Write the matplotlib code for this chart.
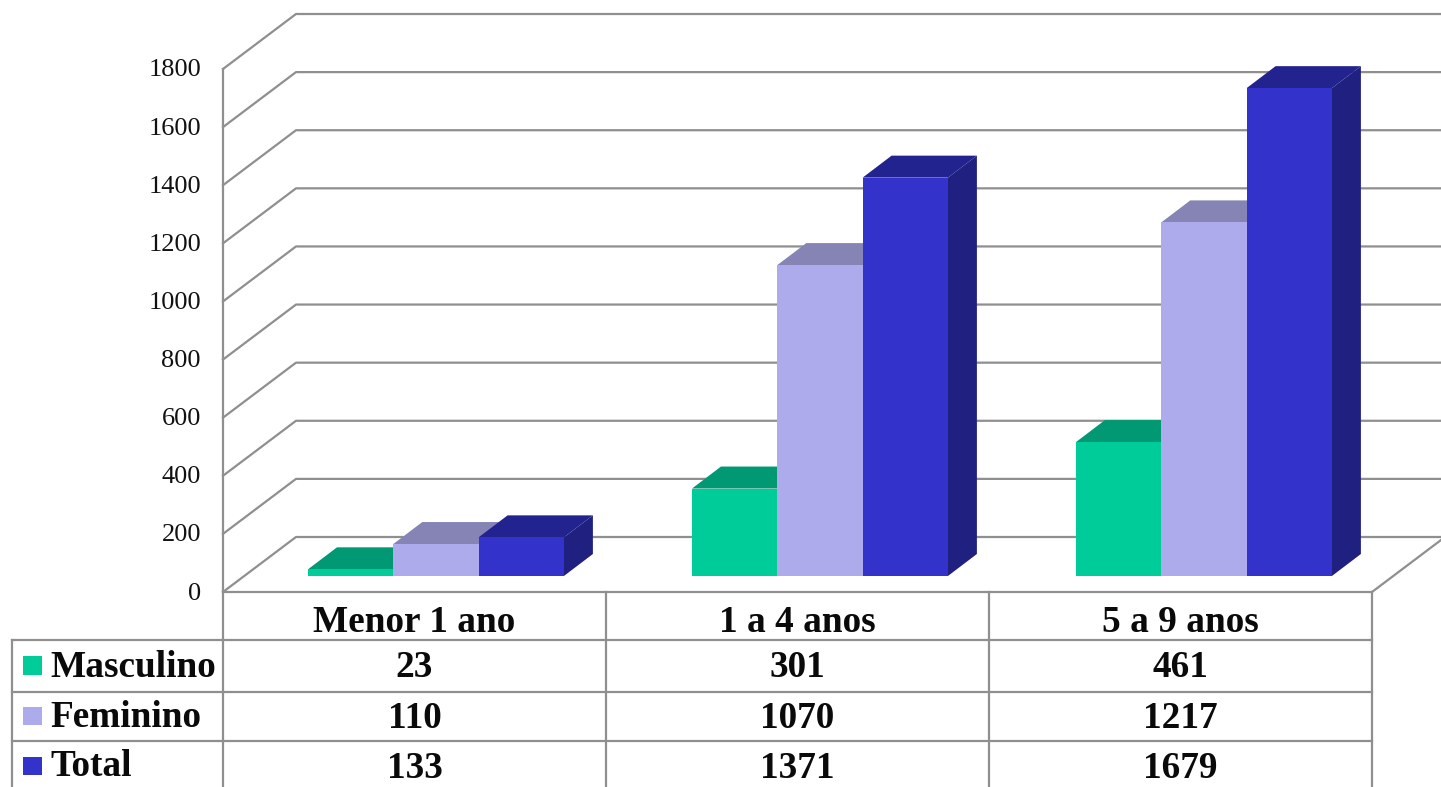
import matplotlib
matplotlib.use("Agg")
import matplotlib.pyplot as plt

plt.rcParams["font.family"] = ["Liberation Serif", "DejaVu Serif"]

categories = ["Menor 1 ano", "1 a 4 anos", "5 a 9 anos"]
series_names = ["Masculino", "Feminino", "Total"]
masculino = [23, 301, 461]
feminino = [110, 1070, 1217]
total = [133, 1371, 1679]
y_ticks = [0, 200, 400, 600, 800, 1000, 1200, 1400, 1600, 1800]

front_colors = ["#00CC99", "#ADABEB", "#3333CC"]
top_colors = ["#009973", "#8584B5", "#23238F"]
side_colors = ["#008060", "#6E6DA0", "#202080"]
line_color = "#8F8F8F"

W, H = 1441, 787
X0, Y0 = 223, 592       # pixel position of the front corner of the floor
PX_CAT = 383.0          # pixels per category
PX_VAL = 523.0 / 1800   # pixels per unit of value


def dx(px):
    return px / PX_CAT


def dy(px):
    return px / PX_VAL


def row_y(py):
    # pixel row -> value coordinate, for the table below the floor
    return (Y0 - py) / PX_VAL


fig = plt.figure(figsize=(W / 100, H / 100), dpi=100)
ax = fig.add_axes([0, 0, 1, 1])
ax.set_xlim(-X0 / PX_CAT, (W - X0) / PX_CAT)
ax.set_ylim(row_y(H), row_y(0))
ax.axis("off")

lw = 1.6
wall_dx, wall_dy = dx(73), dy(55)
x_max = ax.get_xlim()[1]

# walls and gridlines
for t in y_ticks:
    ax.plot([0, wall_dx, x_max], [t, t + wall_dy, t + wall_dy], color=line_color, lw=lw, zorder=1)
    ax.text(dx(-22), t + dy(-7.5), str(t), ha="right", va="baseline", fontsize=19, color="#111111")
ax.plot([len(categories), len(categories) + wall_dx], [0, wall_dy], color=line_color, lw=lw, zorder=1)

# bars
bar_w = dx(85.3)
bar_dx, bar_dy = dx(29), dy(22)
base = dy(16)
group_start = dx(85)
group_pitch = dx(384)
z = 3
for i in range(len(categories)):
    for s, values in enumerate([masculino, feminino, total]):
        v = values[i]
        left = group_start + i * group_pitch + s * bar_w
        right = left + bar_w
        top = base + v
        ax.fill([right, right + bar_dx, right + bar_dx, right],
                [base, base + bar_dy, top + bar_dy, top],
                color=side_colors[s], lw=0, zorder=z)
        ax.fill([left, left + bar_dx, right + bar_dx, right],
                [top, top + bar_dy, top + bar_dy, top],
                color=top_colors[s], lw=0, zorder=z)
        ax.bar(left, v, width=bar_w, bottom=base, align="edge",
               color=front_colors[s], lw=0, zorder=z)
        z += 1

# data table
row_lines = [640, 692, 741]
table_left = dx(12 - X0)
bottom = row_y(H)
ax.plot([0, len(categories)], [0, 0], color=line_color, lw=lw, zorder=2)
for py in row_lines:
    ax.plot([table_left, len(categories)], [row_y(py)] * 2, color=line_color, lw=lw, zorder=2)
for c in range(len(categories) + 1):
    ax.plot([c, c], [bottom, row_y(Y0 - 523) if c == 0 else 0], color=line_color, lw=lw, zorder=2)
ax.plot([table_left, table_left], [bottom, row_y(640)], color=line_color, lw=lw, zorder=2)

cell_font = dict(fontsize=26.8, fontweight="bold", color="#0A0A0A", va="baseline")
for i, name in enumerate(categories):
    ax.text(i + 0.5, row_y(632), name, ha="center", **cell_font)

baselines = [677, 728, 778]
label_baselines = [677, 727, 776]
swatch_rows = [(656, 675), (707, 725), (757, 775)]
for s, values in enumerate([masculino, feminino, total]):
    for i, v in enumerate(values):
        ax.text(i + 0.5, row_y(baselines[s]), str(v), ha="center", **cell_font)
    ax.text(dx(50 - X0), row_y(label_baselines[s]), series_names[s], ha="left", **cell_font)
    y1, y2 = swatch_rows[s]
    ax.bar(dx(22.5 - X0), row_y(y1) - row_y(y2), width=dx(19.5), bottom=row_y(y2),
           align="edge", color=front_colors[s], lw=0, zorder=3)

fig.savefig("out.png", dpi=100)
